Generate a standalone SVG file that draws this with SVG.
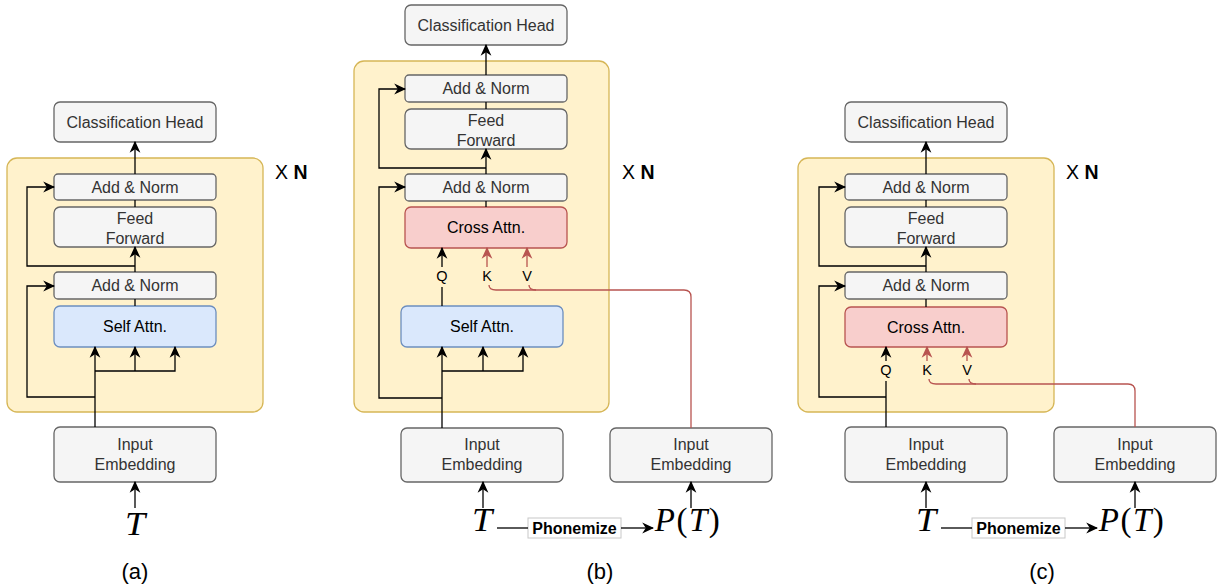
<svg xmlns="http://www.w3.org/2000/svg" width="1217" height="588" viewBox="0 0 1217 588">
<style>
.cont{fill:#fff2cc;stroke:#d6b656;stroke-width:1.3}
.gray{fill:#f5f5f5;stroke:#666666;stroke-width:1.3}
.blue{fill:#dae8fc;stroke:#6c8ebf;stroke-width:1.3}
.red{fill:#f8cecc;stroke:#b85450;stroke-width:1.3}
.lbl{font-family:"Liberation Sans",Arial,sans-serif;font-size:16px;fill:#333333;text-anchor:middle}
.dk{fill:#000000}
.qkv{font-family:"Liberation Sans",Arial,sans-serif;font-size:14.5px;fill:#000;text-anchor:middle}
.xn{font-family:"Liberation Sans",Arial,sans-serif;font-size:19.5px;fill:#000}
.cap{font-family:"Liberation Sans",Arial,sans-serif;font-size:22px;fill:#000;text-anchor:middle}
.math{font-family:"Liberation Serif","Times New Roman",serif;font-size:33px;font-weight:normal;fill:#000;text-anchor:middle}
.ph{font-family:"Liberation Sans",Arial,sans-serif;font-size:16px;font-weight:bold;fill:#000;text-anchor:middle}
.phbox{fill:#ffffff;stroke:#c8c8c8;stroke-width:1}
.c{fill:none;stroke:#000;stroke-width:1.3}
.ca{fill:none;stroke:#000;stroke-width:1.3;marker-end:url(#ah)}
.r{fill:none;stroke:#b85450;stroke-width:1.3}
.ra{fill:none;stroke:#b85450;stroke-width:1.3;marker-end:url(#ahr)}
</style>
<defs>
<marker id="ah" markerUnits="userSpaceOnUse" markerWidth="12" markerHeight="12" viewBox="0 0 10 10" refX="9" refY="5" orient="auto">
<path d="M0,0.5 L10,5 L0,9.5 L3,5 z" fill="#000"/>
</marker>
<marker id="ahr" markerUnits="userSpaceOnUse" markerWidth="12" markerHeight="12" viewBox="0 0 10 10" refX="9" refY="5" orient="auto">
<path d="M0,0.5 L10,5 L0,9.5 L3,5 z" fill="#b85450"/>
</marker>
</defs>

<!-- Panel (a) -->
<g id="a-container"><rect class="cont" x="7" y="158" width="256" height="254" rx="10"/></g>
<g id="a-xn"><text class="xn" x="275" y="179">X <tspan font-weight="bold">N</tspan></text></g>
<g id="a-head"><rect class="gray" x="54" y="102" width="162" height="40" rx="6"/><text class="lbl" x="135" y="127.5">Classification Head</text></g>
<g id="a-addnorm1"><rect class="gray" x="54" y="174" width="162" height="26" rx="4"/><text class="lbl" x="135" y="192.5">Add &amp; Norm</text></g>
<g id="a-ff"><rect class="gray" x="54" y="207" width="162" height="40" rx="6"/><text class="lbl" x="135" y="224">Feed</text><text class="lbl" x="135" y="244">Forward</text></g>
<g id="a-addnorm2"><rect class="gray" x="54" y="272" width="162" height="27" rx="4"/><text class="lbl" x="135" y="291">Add &amp; Norm</text></g>
<g id="a-selfattn"><rect class="blue" x="54" y="306" width="162" height="41" rx="6"/><text class="lbl dk" x="135" y="332">Self Attn.</text></g>
<g id="a-embed"><rect class="gray" x="54" y="427" width="162" height="55" rx="6"/><text class="lbl" x="135" y="450">Input</text><text class="lbl" x="135" y="470">Embedding</text></g>
<g id="a-T"><text class="math" transform="translate(135,535) scale(1.1,1)" font-style="italic">T</text></g>
<g id="a-cap"><text class="cap" x="135" y="579">(a)</text></g>

<!-- Panel (b) -->
<g id="b-container"><rect class="cont" x="354" y="61" width="255" height="351" rx="10"/></g>
<g id="b-xn"><text class="xn" x="622" y="179">X <tspan font-weight="bold">N</tspan></text></g>
<g id="b-head"><rect class="gray" x="405" y="5" width="162" height="40" rx="6"/><text class="lbl" x="486" y="30.5">Classification Head</text></g>
<g id="b-addnorm1"><rect class="gray" x="405" y="75" width="162" height="27" rx="4"/><text class="lbl" x="486" y="94">Add &amp; Norm</text></g>
<g id="b-ff"><rect class="gray" x="405" y="109" width="162" height="40" rx="6"/><text class="lbl" x="486" y="126">Feed</text><text class="lbl" x="486" y="146">Forward</text></g>
<g id="b-addnorm2"><rect class="gray" x="405" y="174" width="162" height="27" rx="4"/><text class="lbl" x="486" y="193">Add &amp; Norm</text></g>
<g id="b-crossattn"><rect class="red" x="405" y="207" width="162" height="41" rx="6"/><text class="lbl dk" x="486" y="233">Cross Attn.</text></g>
<g id="b-selfattn"><rect class="blue" x="401" y="306" width="162" height="41" rx="6"/><text class="lbl dk" x="482" y="332">Self Attn.</text></g>
<g id="b-embed1"><rect class="gray" x="401" y="428" width="162" height="54" rx="6"/><text class="lbl" x="482" y="450">Input</text><text class="lbl" x="482" y="470">Embedding</text></g>
<g id="b-embed2"><rect class="gray" x="610" y="428" width="162" height="54" rx="6"/><text class="lbl" x="691" y="450">Input</text><text class="lbl" x="691" y="470">Embedding</text></g>
<g id="b-T"><text class="math" transform="translate(482,531) scale(1.1,1)" font-style="italic">T</text></g>
<g id="b-phonemize"><rect class="phbox" x="528" y="518" width="93" height="20"/><text class="ph" x="574.5" y="534">Phonemize</text></g>
<g id="b-PT"><text class="math" transform="translate(688,531)" letter-spacing="1.5"><tspan font-style="italic">P</tspan>(<tspan font-style="italic">T</tspan>)</text></g>
<g id="b-q"><text class="qkv" x="442" y="281">Q</text></g>
<g id="b-k"><text class="qkv" x="487" y="281">K</text></g>
<g id="b-v"><text class="qkv" x="527" y="281">V</text></g>
<g id="b-cap"><text class="cap" x="600" y="579">(b)</text></g>

<!-- Panel (c) -->
<g id="c-container"><rect class="cont" x="798" y="158" width="256" height="254" rx="10"/></g>
<g id="c-xn"><text class="xn" x="1066" y="179">X <tspan font-weight="bold">N</tspan></text></g>
<g id="c-head"><rect class="gray" x="845" y="102" width="162" height="40" rx="6"/><text class="lbl" x="926" y="127.5">Classification Head</text></g>
<g id="c-addnorm1"><rect class="gray" x="845" y="174" width="162" height="26" rx="4"/><text class="lbl" x="926" y="192.5">Add &amp; Norm</text></g>
<g id="c-ff"><rect class="gray" x="845" y="207" width="162" height="40" rx="6"/><text class="lbl" x="926" y="224">Feed</text><text class="lbl" x="926" y="244">Forward</text></g>
<g id="c-addnorm2"><rect class="gray" x="845" y="272" width="162" height="27" rx="4"/><text class="lbl" x="926" y="291">Add &amp; Norm</text></g>
<g id="c-crossattn"><rect class="red" x="845" y="307" width="162" height="40" rx="6"/><text class="lbl dk" x="926" y="332.5">Cross Attn.</text></g>
<g id="c-embed1"><rect class="gray" x="845" y="427" width="162" height="55" rx="6"/><text class="lbl" x="926" y="450">Input</text><text class="lbl" x="926" y="470">Embedding</text></g>
<g id="c-embed2"><rect class="gray" x="1054" y="427" width="162" height="55" rx="6"/><text class="lbl" x="1135" y="450">Input</text><text class="lbl" x="1135" y="470">Embedding</text></g>
<g id="c-T"><text class="math" transform="translate(926,531) scale(1.1,1)" font-style="italic">T</text></g>
<g id="c-phonemize"><rect class="phbox" x="972" y="518" width="93" height="20"/><text class="ph" x="1018.5" y="534">Phonemize</text></g>
<g id="c-PT"><text class="math" transform="translate(1132,531)" letter-spacing="1.5"><tspan font-style="italic">P</tspan>(<tspan font-style="italic">T</tspan>)</text></g>
<g id="c-q"><text class="qkv" x="886" y="375">Q</text></g>
<g id="c-k"><text class="qkv" x="927" y="375">K</text></g>
<g id="c-v"><text class="qkv" x="967" y="375">V</text></g>
<g id="c-cap"><text class="cap" x="1042" y="579">(c)</text></g>

<g id="connectors">
<!-- (a) -->
<path class="ca" d="M135,174 V142"/>
<path class="c" d="M135,200 V207"/>
<path class="ca" d="M135,272 V247"/>
<path class="ca" d="M135,266 H27 V187 H54"/>
<path class="c" d="M135,306 V299"/>
<path class="ca" d="M95,427 V347"/>
<path class="ca" d="M95,371 H175 V347"/>
<path class="ca" d="M135,371 V347"/>
<path class="ca" d="M95,397 H27 V286 H54"/>
<path class="ca" d="M135,508 V482"/>
<!-- (b) -->
<path class="ca" d="M486,75 V45"/>
<path class="c" d="M486,102 V109"/>
<path class="ca" d="M486,174 V149"/>
<path class="ca" d="M486,168 H379 V89 H405"/>
<path class="c" d="M486,207 V201"/>
<path class="c" d="M442,306 V287"/>
<path class="ca" d="M442,267 V248"/>
<path class="ra" d="M487,267 V248"/>
<path class="ra" d="M527,267 V248"/>
<path class="r" d="M489,285 Q489,290 496,290 H684 Q691,290 691,297 V428"/>
<path class="r" d="M529,285 Q529,290 536,290"/>
<path class="ca" d="M442,428 V347"/>
<path class="ca" d="M442,371 H523 V347"/>
<path class="ca" d="M483,371 V347"/>
<path class="ca" d="M442,398 H379 V187 H405"/>
<path class="ca" d="M483,508 V482"/>
<path class="ca" d="M691,508 V482"/>
<path class="c" d="M497,528 H528"/>
<path class="ca" d="M621,528 H653"/>
<!-- (c) -->
<path class="ca" d="M926,174 V142"/>
<path class="c" d="M926,200 V207"/>
<path class="ca" d="M926,272 V247"/>
<path class="ca" d="M926,266 H819 V187 H845"/>
<path class="c" d="M926,307 V299"/>
<path class="ca" d="M886,361 V347"/>
<path class="c" d="M886,381 V427"/>
<path class="ra" d="M927,361 V347"/>
<path class="ra" d="M967,361 V347"/>
<path class="r" d="M929,379 Q929,384 936,384 H1128 Q1135,384 1135,391 V427"/>
<path class="r" d="M969,379 Q969,384 976,384"/>
<path class="ca" d="M886,397 H819 V286 H845"/>
<path class="ca" d="M926,508 V482"/>
<path class="ca" d="M1135,508 V482"/>
<path class="c" d="M941,528 H972"/>
<path class="ca" d="M1065,528 H1097"/>
</g>
</svg>
